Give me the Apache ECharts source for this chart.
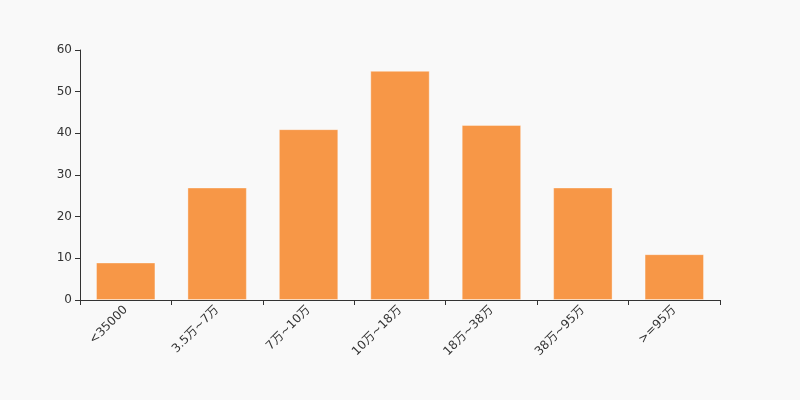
<!DOCTYPE html>
<html><head><meta charset="utf-8">
<script src="https://cdn.jsdelivr.net/npm/echarts@6/dist/echarts.min.js"></script>
<style>html,body{margin:0;padding:0;background:#f9f9f9;}#c{width:800px;height:400px;}</style>
</head><body><div id="c"></div>
<script>
const categories = ['<35000','3.5万~7万','7万~10万','10万~18万','18万~38万','38万~95万','>=95万'];
const values = [9, 27, 41, 55, 42, 27, 11];
const yTicks = {min: 0, max: 60, interval: 10};
const chart = echarts.init(document.getElementById('c'));
chart.setOption({
  backgroundColor: '#f9f9f9',
  animation: false,
  grid: {left: 80, right: 80, top: 50, bottom: 100},
  xAxis: {
    type: 'category', data: categories,
    axisLine: {lineStyle: {color: '#333'}},
    axisTick: {show: true, alignWithLabel: false, lineStyle: {color: '#333'}},
    axisLabel: {rotate: 45, color: '#333', fontSize: 12, fontFamily: 'DejaVu Sans, Noto Sans CJK SC, sans-serif'}
  },
  yAxis: {
    type: 'value', min: yTicks.min, max: yTicks.max, interval: yTicks.interval,
    axisLine: {show: true, lineStyle: {color: '#333'}},
    axisTick: {show: true, lineStyle: {color: '#333'}},
    splitLine: {show: false},
    axisLabel: {color: '#333', fontSize: 12, fontFamily: 'DejaVu Sans, sans-serif'}
  },
  series: [{
    type: 'bar', data: values, barWidth: '65%',
    itemStyle: {color: '#f79747', borderColor: 'rgba(255,255,255,0.35)', borderWidth: 1}
  }]
});
</script></body></html>
